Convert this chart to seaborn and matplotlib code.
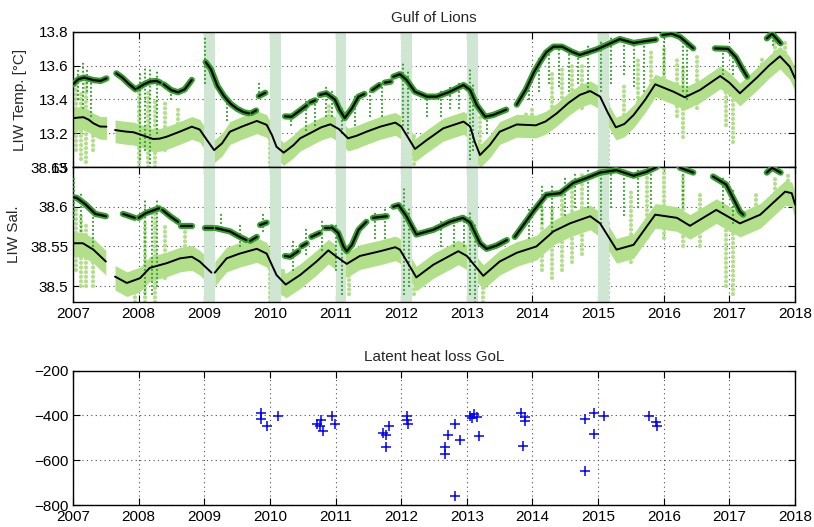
import numpy as np
import pandas as pd
import matplotlib
matplotlib.use("Agg")
import matplotlib.pyplot as plt
import seaborn as sns

# ---------------- data ----------------
# Winter convection periods (start year); each lasts ~2 months
winter_starts = [2009.0, 2010.0, 2011.0, 2012.0, 2013.0, 2015.0]
winter_length = 0.165

# LIW temperature, deeper record (smoothed), one list per continuous segment
temp_lower_t = [
    [2007.00, 2007.08, 2007.16, 2007.24, 2007.31, 2007.41, 2007.51],
    [2007.64, 2007.80, 2007.92, 2008.08, 2008.22, 2008.32, 2008.43, 2008.63, 2008.81, 2008.93,
     2009.04, 2009.15, 2009.27, 2009.39, 2009.57, 2009.80, 2009.95, 2010.03, 2010.10, 2010.21,
     2010.36, 2010.46, 2010.61, 2010.78, 2010.92, 2011.05, 2011.19, 2011.32, 2011.47, 2011.68,
     2011.91, 2012.00, 2012.08, 2012.21, 2012.39, 2012.64, 2012.95, 2013.05, 2013.12, 2013.20,
     2013.35, 2013.50, 2013.76, 2014.05, 2014.20, 2014.37, 2014.55, 2014.72, 2014.88, 2015.03,
     2015.15, 2015.27, 2015.40, 2015.54, 2015.72, 2015.87, 2016.15, 2016.32, 2016.55, 2016.86,
     2017.00, 2017.16, 2017.42, 2017.60, 2017.77, 2017.92, 2018.00],
]
temp_lower_v = [
    [13.289, 13.293, 13.295, 13.280, 13.259, 13.240, 13.239],
    [13.219, 13.210, 13.206, 13.185, 13.166, 13.168, 13.180, 13.210, 13.239, 13.222,
     13.160, 13.100, 13.140, 13.209, 13.239, 13.273, 13.250, 13.190, 13.120, 13.085,
     13.130, 13.170, 13.200, 13.235, 13.253, 13.225, 13.170, 13.185, 13.209, 13.239,
     13.263, 13.240, 13.190, 13.107, 13.160, 13.229, 13.269, 13.240, 13.150, 13.071,
     13.130, 13.209, 13.252, 13.247, 13.270, 13.318, 13.380, 13.427, 13.450, 13.417,
     13.320, 13.235, 13.255, 13.308, 13.400, 13.490, 13.446, 13.413, 13.456, 13.539,
     13.500, 13.437, 13.530, 13.600, 13.656, 13.594, 13.525],
]

# LIW temperature, shallower record (smoothed)
temp_upper_t = [
    [2007.00, 2007.08, 2007.17, 2007.31, 2007.42, 2007.51],
    [2007.66, 2007.75, 2007.84, 2007.95],
    [2007.98, 2008.08, 2008.17, 2008.27, 2008.33],
    [2008.38, 2008.50, 2008.60, 2008.70, 2008.81],
    [2009.02, 2009.10, 2009.20, 2009.30, 2009.40, 2009.50, 2009.60, 2009.68],
    [2009.72, 2009.79],
    [2009.83, 2009.93],
    [2010.23, 2010.33, 2010.44, 2010.56],
    [2010.61, 2010.69],
    [2010.76, 2010.86, 2010.99, 2011.06, 2011.14, 2011.25, 2011.35, 2011.44],
    [2011.56, 2011.67],
    [2011.75, 2011.84],
    [2011.88, 2011.98, 2012.08, 2012.21, 2012.39, 2012.54, 2012.74, 2012.95, 2013.05, 2013.15,
     2013.28, 2013.40, 2013.55, 2013.60],
    [2013.76, 2013.90, 2014.02, 2014.11, 2014.21, 2014.32, 2014.45, 2014.60, 2014.72, 2014.98,
     2015.33, 2015.54, 2015.88],
    [2015.98, 2016.12, 2016.25, 2016.45],
    [2016.78, 2016.98, 2017.10, 2017.20, 2017.27],
    [2017.57, 2017.65, 2017.78],
]
temp_upper_v = [
    [13.490, 13.520, 13.530, 13.515, 13.510, 13.525],
    [13.555, 13.530, 13.496, 13.460],
    [13.466, 13.490, 13.506, 13.510, 13.500],
    [13.490, 13.455, 13.443, 13.460, 13.516],
    [13.622, 13.580, 13.480, 13.420, 13.375, 13.345, 13.325, 13.318],
    [13.320, 13.335],
    [13.420, 13.440],
    [13.300, 13.298, 13.330, 13.365],
    [13.382, 13.395],
    [13.427, 13.437, 13.400, 13.340, 13.290, 13.348, 13.417, 13.433],
    [13.456, 13.486],
    [13.500, 13.506],
    [13.535, 13.550, 13.516, 13.446, 13.417, 13.417, 13.446, 13.486, 13.456, 13.367,
     13.298, 13.308, 13.332, 13.340],
    [13.370, 13.460, 13.560, 13.620, 13.680, 13.713, 13.713, 13.683, 13.664, 13.697,
     13.758, 13.735, 13.755],
    [13.782, 13.790, 13.770, 13.703],
    [13.703, 13.700, 13.650, 13.580, 13.535],
    [13.762, 13.790, 13.733],
]

# LIW salinity, deeper record (smoothed)
sal_lower_t = [
    [2007.00, 2007.15, 2007.31, 2007.50],
    [2007.64, 2007.82, 2008.02, 2008.17, 2008.43, 2008.63, 2008.81, 2008.93, 2009.11],
    [2009.16, 2009.34, 2009.54, 2009.80, 2009.95, 2010.10, 2010.24, 2010.46, 2010.71, 2010.89,
     2011.00, 2011.17, 2011.37, 2011.68, 2011.91, 2011.98, 2012.23, 2012.49, 2012.87, 2013.00,
     2013.25, 2013.50, 2013.76, 2014.06, 2014.32, 2014.57, 2014.88, 2015.03, 2015.28, 2015.54,
     2015.87, 2016.20, 2016.40, 2016.80, 2017.16, 2017.47, 2017.85, 2017.95, 2018.00],
]
sal_lower_v = [
    [38.554, 38.554, 38.546, 38.531],
    [38.512, 38.504, 38.510, 38.523, 38.529, 38.535, 38.537, 38.531, 38.517],
    [38.517, 38.535, 38.541, 38.547, 38.541, 38.514, 38.502, 38.514, 38.531, 38.545,
     38.538, 38.528, 38.538, 38.544, 38.549, 38.546, 38.511, 38.527, 38.544, 38.538,
     38.513, 38.531, 38.542, 38.550, 38.569, 38.579, 38.588, 38.579, 38.546, 38.552,
     38.590, 38.586, 38.576, 38.596, 38.579, 38.590, 38.619, 38.617, 38.603],
]

# LIW salinity, shallower record (smoothed)
sal_upper_t = [
    [2007.00, 2007.06, 2007.19, 2007.34, 2007.50],
    [2007.76, 2007.94],
    [2008.00, 2008.11, 2008.31],
    [2008.36, 2008.48, 2008.60],
    [2008.65, 2008.81],
    [2009.01, 2009.14],
    [2009.18, 2009.39, 2009.54, 2009.64],
    [2009.70, 2009.80],
    [2009.85, 2009.95],
    [2010.23, 2010.31, 2010.43],
    [2010.48, 2010.56],
    [2010.63, 2010.76],
    [2010.84, 2010.91],
    [2010.94, 2011.04, 2011.12, 2011.17, 2011.25, 2011.35, 2011.47],
    [2011.57, 2011.78],
    [2011.88, 2011.96, 2012.08, 2012.23, 2012.49, 2012.74, 2012.94, 2013.05, 2013.20, 2013.30,
     2013.45, 2013.61],
    [2013.73, 2014.01, 2014.21, 2014.42, 2014.62, 2014.82, 2015.03, 2015.28, 2015.54, 2015.74,
     2015.89, 2015.95],
    [2016.20, 2016.25, 2016.45],
    [2016.75, 2016.95, 2017.16, 2017.21],
    [2017.57, 2017.65, 2017.78],
]
sal_upper_v = [
    [38.612, 38.611, 38.603, 38.591, 38.588],
    [38.591, 38.586],
    [38.586, 38.592, 38.598],
    [38.596, 38.588, 38.581],
    [38.576, 38.576],
    [38.573, 38.573],
    [38.573, 38.569, 38.562, 38.558],
    [38.557, 38.562],
    [38.577, 38.580],
    [38.538, 38.537, 38.544],
    [38.550, 38.554],
    [38.562, 38.567],
    [38.573, 38.573],
    [38.574, 38.567, 38.550, 38.544, 38.552, 38.571, 38.581],
    [38.586, 38.588],
    [38.600, 38.602, 38.588, 38.565, 38.571, 38.581, 38.586, 38.580, 38.554, 38.547,
     38.551, 38.558],
    [38.562, 38.594, 38.615, 38.617, 38.630, 38.636, 38.643, 38.646, 38.639, 38.644,
     38.650, 38.656],
    [38.656, 38.649, 38.643],
    [38.638, 38.628, 38.594, 38.590],
    [38.643, 38.649, 38.643],
]

# Short excursions in the raw records: (time, min, max)
temp_dark_spikes = [
    (2007.08, 13.40, 13.58), (2007.15, 13.35, 13.62), (2007.22, 13.45, 13.58), (2007.28, 13.30, 13.52),
    (2008.02, 13.05, 13.56), (2008.10, 13.10, 13.60), (2008.18, 13.00, 13.58), (2008.28, 13.20, 13.58),
    (2008.50, 13.40, 13.47), (2009.01, 13.50, 13.77), (2009.35, 13.28, 13.42), (2009.83, 13.42, 13.50),
    (2010.32, 13.25, 13.32), (2010.55, 13.22, 13.40), (2010.68, 13.25, 13.41), (2010.85, 13.30, 13.48),
    (2010.95, 13.30, 13.45), (2011.10, 13.20, 13.35), (2011.30, 13.25, 13.42), (2011.52, 13.30, 13.47),
    (2011.70, 13.30, 13.49), (2012.03, 13.25, 13.61), (2012.10, 13.20, 13.58), (2012.40, 13.30, 13.43),
    (2012.60, 13.30, 13.45), (2012.75, 13.35, 13.48), (2012.88, 13.35, 13.50), (2013.05, 13.05, 13.58),
    (2013.10, 13.10, 13.50), (2013.30, 13.20, 13.32), (2013.95, 13.40, 13.52), (2014.10, 13.45, 13.65),
    (2014.25, 13.50, 13.71), (2014.40, 13.48, 13.70), (2014.55, 13.45, 13.69), (2014.70, 13.50, 13.68),
    (2014.85, 13.45, 13.72), (2015.05, 13.45, 13.75), (2015.20, 13.50, 13.77), (2015.40, 13.55, 13.75),
    (2015.55, 13.48, 13.74), (2015.70, 13.45, 13.76), (2016.00, 13.55, 13.78), (2016.30, 13.45, 13.76),
    (2016.35, 13.40, 13.72), (2016.90, 13.55, 13.70), (2017.05, 13.55, 13.68), (2017.67, 13.72, 13.80),
]
temp_light_spikes = [
    (2007.05, 13.10, 13.50), (2007.12, 13.05, 13.45), (2007.20, 13.03, 13.50), (2007.30, 13.10, 13.30),
    (2008.00, 13.00, 13.45), (2008.15, 13.00, 13.45), (2008.25, 13.00, 13.40), (2008.40, 13.10, 13.38),
    (2008.60, 13.20, 13.35), (2009.05, 13.05, 13.25), (2010.00, 13.00, 13.20), (2010.90, 13.25, 13.38),
    (2011.05, 13.05, 13.30), (2012.05, 13.00, 13.35), (2012.20, 13.02, 13.20), (2013.10, 13.00, 13.30),
    (2013.20, 13.02, 13.30), (2013.90, 13.20, 13.32), (2014.00, 13.20, 13.35), (2014.30, 13.25, 13.55),
    (2014.45, 13.30, 13.60), (2014.60, 13.35, 13.62), (2014.75, 13.35, 13.60), (2015.08, 13.00, 13.50),
    (2015.15, 13.02, 13.40), (2015.40, 13.20, 13.50), (2015.60, 13.30, 13.65), (2015.80, 13.40, 13.70),
    (2016.00, 13.45, 13.70), (2016.20, 13.30, 13.65), (2016.30, 13.18, 13.60), (2016.50, 13.35, 13.65),
    (2016.95, 13.25, 13.50), (2017.05, 13.15, 13.50), (2017.50, 13.50, 13.65), (2017.70, 13.60, 13.78),
    (2017.85, 13.65, 13.76),
]
sal_dark_spikes = [
    (2007.02, 38.585, 38.640), (2007.12, 38.570, 38.620), (2007.30, 38.550, 38.600),
    (2008.10, 38.490, 38.610), (2008.20, 38.490, 38.600), (2008.28, 38.500, 38.610),
    (2009.25, 38.570, 38.595), (2009.55, 38.550, 38.580), (2009.90, 38.570, 38.595),
    (2010.35, 38.520, 38.560), (2010.55, 38.540, 38.575), (2010.80, 38.545, 38.585),
    (2011.00, 38.520, 38.578), (2011.10, 38.490, 38.560), (2011.60, 38.560, 38.595),
    (2011.75, 38.560, 38.600), (2012.05, 38.490, 38.625), (2012.12, 38.500, 38.600),
    (2012.60, 38.550, 38.585), (2012.80, 38.550, 38.590), (2012.95, 38.550, 38.590),
    (2013.05, 38.490, 38.595), (2013.12, 38.480, 38.580), (2013.95, 38.560, 38.600),
    (2014.15, 38.580, 38.630), (2014.30, 38.570, 38.630), (2014.50, 38.590, 38.640),
    (2014.65, 38.600, 38.645), (2014.85, 38.600, 38.650), (2015.05, 38.580, 38.650),
    (2015.20, 38.600, 38.650), (2015.40, 38.590, 38.650), (2015.60, 38.600, 38.650),
    (2015.80, 38.600, 38.650), (2016.30, 38.600, 38.650), (2016.90, 38.600, 38.640),
    (2017.05, 38.580, 38.625),
]
sal_light_spikes = [
    (2007.05, 38.520, 38.600), (2007.12, 38.500, 38.590), (2007.20, 38.500, 38.580),
    (2007.30, 38.500, 38.550), (2007.95, 38.480, 38.520), (2008.10, 38.480, 38.580),
    (2008.25, 38.480, 38.600), (2008.40, 38.510, 38.580), (2008.70, 38.550, 38.580),
    (2010.00, 38.480, 38.520), (2010.20, 38.490, 38.520), (2011.05, 38.480, 38.520),
    (2011.20, 38.490, 38.530), (2012.10, 38.480, 38.520), (2012.20, 38.490, 38.500),
    (2013.10, 38.480, 38.520), (2013.25, 38.480, 38.500), (2014.15, 38.520, 38.600),
    (2014.30, 38.510, 38.600), (2014.45, 38.520, 38.620), (2014.60, 38.530, 38.630),
    (2014.75, 38.540, 38.640), (2015.05, 38.490, 38.620), (2015.15, 38.480, 38.580),
    (2015.50, 38.530, 38.620), (2015.75, 38.560, 38.640), (2016.00, 38.560, 38.650),
    (2016.30, 38.550, 38.640), (2016.55, 38.550, 38.620), (2016.95, 38.500, 38.600),
    (2017.05, 38.490, 38.580), (2017.40, 38.580, 38.620), (2017.70, 38.600, 38.640),
    (2017.90, 38.610, 38.640),
]

# Latent heat loss events in the Gulf of Lions (W m-2)
heat_t = [2009.86, 2009.86, 2009.96, 2010.12, 2010.71, 2010.78, 2010.76, 2010.81, 2010.95, 2010.99,
          2011.72, 2011.77, 2011.81, 2011.77, 2012.09, 2012.09, 2012.10, 2012.67, 2012.67, 2012.71,
          2012.82, 2012.82, 2012.90, 2013.05, 2013.11, 2013.15, 2013.08, 2013.19, 2013.82, 2013.89,
          2013.89, 2013.86, 2014.80, 2014.93, 2015.09, 2014.94, 2014.80, 2015.77, 2015.88, 2015.89]
heat_v = [-389, -416, -449, -401, -437, -420, -449, -468, -401, -437,
          -478, -486, -449, -542, -401, -422, -437, -570, -541, -487,
          -438, -760, -511, -401, -392, -405, -410, -493, -389, -407,
          -426, -538, -416, -389, -401, -481, -649, -401, -427, -446]

year_ticks = list(range(2007, 2019))
temp_ticks = [13.0, 13.2, 13.4, 13.6, 13.8]
temp_ticklabels = ["13", "13.2", "13.4", "13.6", "13.8"]
sal_ticks = [38.5, 38.55, 38.6, 38.65]
sal_ticklabels = ["38.5", "38.55", "38.6", "38.65"]
heat_ticks = [-800, -600, -400, -200]
heat_ticklabels = ["\u2212800", "\u2212600", "\u2212400", "\u2212200"]

# ---------------- style ----------------
sns.set_style("ticks")
plt.rcParams["font.family"] = ["Liberation Sans", "DejaVu Sans"]
plt.rcParams["font.size"] = 11

LIGHT = "#b2df8a"
DARK = "#33a02c"
SHADE = "#cfe6d2"


def segments_frame(ts, vs):
    rows = []
    for k, (t, v) in enumerate(zip(ts, vs)):
        assert len(t) == len(v)
        rows += [(k, a, b) for a, b in zip(t, v)]
    return pd.DataFrame(rows, columns=["seg", "t", "v"])


def style_axes(ax):
    ax.set_xlim(2007, 2018)
    ax.set_xticks(year_ticks)
    ax.grid(True, linestyle=(0, (1, 3)), color="0.3", linewidth=0.8)
    ax.set_axisbelow(True)
    ax.tick_params(direction="in", top=True, right=True, length=5, width=0.8,
                   labelsize=11, colors="black")
    for s in ax.spines.values():
        s.set_visible(True)
        s.set_linewidth(1.0)
        s.set_color("black")
    ax.set_xlabel("")
    ax.set_ylabel("")


def draw_panel(ax, lower_t, lower_v, upper_t, upper_v, dark_spikes, light_spikes,
               spread_lo, spread_hi):
    lower = segments_frame(lower_t, lower_v)
    upper = segments_frame(upper_t, upper_v)
    # cloud of raw deeper observations around its smoothed curve
    for _, g in lower.groupby("seg"):
        ax.fill_between(g["t"], g["v"] - spread_lo, g["v"] + spread_hi,
                        color=LIGHT, lw=0, zorder=1)
    ts, lo, hi = zip(*light_spikes)
    ax.vlines(ts, lo, hi, color=LIGHT, lw=3.0, linestyles=(0, (0.01, 1.1)),
              capstyle="round", zorder=1)
    # winter convection periods
    for w in winter_starts:
        ax.axvspan(w, w + winter_length, color=SHADE, lw=0, zorder=2)
    ts, lo, hi = zip(*dark_spikes)
    ax.vlines(ts, lo, hi, color=DARK, lw=1.6, linestyles=(0, (0.01, 1.8)),
              capstyle="round", zorder=3)
    sns.lineplot(data=upper, x="t", y="v", units="seg", estimator=None, sort=False,
                 color=DARK, lw=4.5, ax=ax, legend=False, zorder=3)
    sns.lineplot(data=upper, x="t", y="v", units="seg", estimator=None, sort=False,
                 color="black", lw=1.6, ax=ax, legend=False, zorder=4)
    sns.lineplot(data=lower, x="t", y="v", units="seg", estimator=None, sort=False,
                 color="black", lw=1.4, ax=ax, legend=False, zorder=4)


fig = plt.figure(figsize=(8.14, 5.27), dpi=100)
ax1 = fig.add_axes([0.0897, 0.6831, 0.8870, 0.2562])
ax2 = fig.add_axes([0.0897, 0.4269, 0.8870, 0.2562])
ax3 = fig.add_axes([0.0897, 0.0417, 0.8870, 0.2549])

# Temperature
draw_panel(ax1, temp_lower_t, temp_lower_v, temp_upper_t, temp_upper_v,
           temp_dark_spikes, temp_light_spikes, 0.075, 0.060)
style_axes(ax1)
ax1.set_ylim(13.0, 13.8)
ax1.set_yticks(temp_ticks)
ax1.set_yticklabels(temp_ticklabels)
ax1.tick_params(labelbottom=False)
ax1.set_title("Gulf of Lions", fontsize=11, pad=7)
ax1.set_ylabel("LIW Temp. [\u00b0C]", fontsize=11)
ax1.yaxis.set_label_coords(-0.064, 0.5)

# Salinity
draw_panel(ax2, sal_lower_t, sal_lower_v, sal_upper_t, sal_upper_v,
           sal_dark_spikes, sal_light_spikes, 0.017, 0.014)
style_axes(ax2)
ax2.set_ylim(38.48, 38.65)
ax2.set_yticks(sal_ticks)
ax2.set_yticklabels(sal_ticklabels)
ax2.set_xticklabels([str(y) for y in year_ticks])
ax2.set_ylabel("LIW Sal.", fontsize=11)
ax2.yaxis.set_label_coords(-0.072, 0.5)

# Latent heat loss
sns.scatterplot(x=heat_t, y=heat_v, marker="+", color="blue", s=60, linewidth=1.1,
                ax=ax3, legend=False, zorder=3)
style_axes(ax3)
ax3.set_ylim(-800, -200)
ax3.set_yticks(heat_ticks)
ax3.set_yticklabels(heat_ticklabels)
ax3.set_xticklabels([str(y) for y in year_ticks])
ax3.set_title("Latent heat loss GoL", fontsize=11, pad=7)

fig.savefig("out.png", dpi=100)
